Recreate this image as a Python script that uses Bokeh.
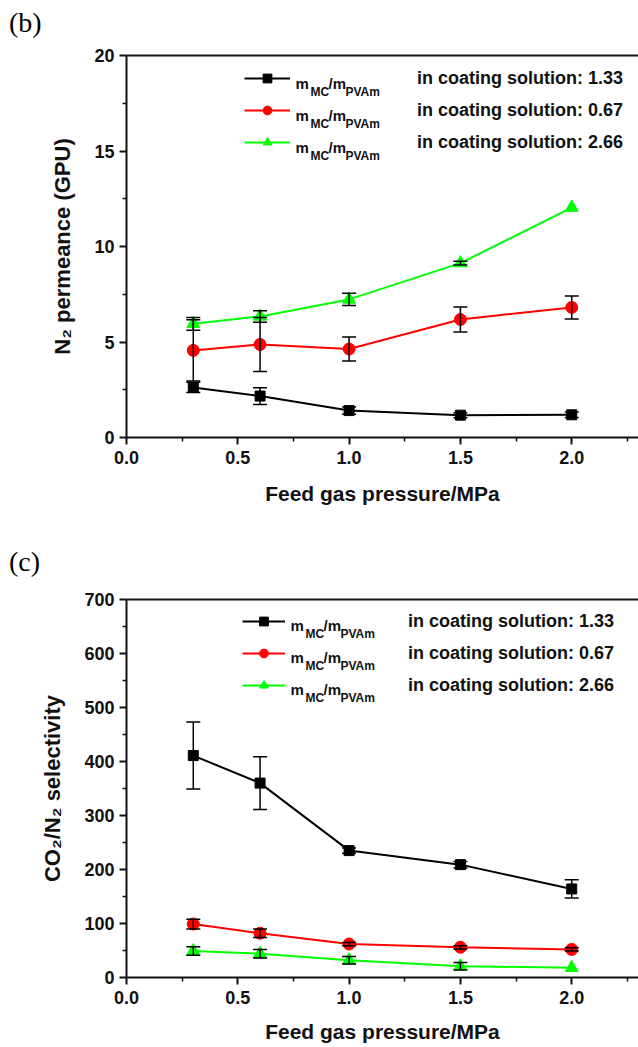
from bokeh.plotting import figure
from bokeh.models import (Range1d, FixedTicker, NumeralTickFormatter, LinearAxis, Whisker,
                          TeeHead, ColumnDataSource, Legend, LegendItem, Label, Div)
from bokeh.layouts import column
from bokeh.embed import file_html
from bokeh.resources import INLINE

# ---------------- data ----------------
pressure = [0.3, 0.6, 1.0, 1.5, 2.0]            # Feed gas pressure / MPa
ratios = ["1.33", "0.67", "2.66"]               # m_MC/m_PVAm in coating solution
colors = ["#000000", "#ff0000", "#00ff00"]
markers = ["square", "circle", "triangle"]
marker_sizes = [10, 12, 13]

# (b) N2 permeance (GPU)
perm_133 = [2.62, 2.17, 1.41, 1.17, 1.19]
perm_133_err = [0.27, 0.44, 0.19, 0.13, 0.14]
perm_067 = [4.56, 4.87, 4.63, 6.18, 6.81]
perm_067_err = [1.60, 1.41, 0.63, 0.65, 0.60]
perm_266 = [5.95, 6.34, 7.23, 9.13, 12.04]
perm_266_err = [0.33, 0.30, 0.32, 0.10, 0.0]

# (c) CO2/N2 selectivity
sel_133 = [411, 360, 235, 209, 164]
sel_133_err = [62, 49, 5, 6, 17]
sel_067 = [99, 82, 62, 56, 52]
sel_067_err = [9, 8, 3, 3, 3]
sel_266 = [49, 44, 32, 21, 18]
sel_266_err = [8, 8, 7, 7, 0]

x_major = [0.0, 0.5, 1.0, 1.5, 2.0]
x_minor = [0.25, 0.75, 1.25, 1.75, 2.25]
perm_major = [0, 5, 10, 15, 20]
perm_minor = [2.5, 7.5, 12.5, 17.5]
sel_major = [0, 100, 200, 300, 400, 500, 600, 700]
sel_minor = [50, 150, 250, 350, 450, 550, 650]

x_label = "Feed gas pressure/MPa"
FONT = "Liberation Sans"
INK = "#111111"
LEFT = 126


def style_axis(ax, standoff, label_standoff, label_size):
    ax.axis_line_width = 2
    ax.axis_line_color = INK
    ax.major_tick_line_width = 2
    ax.major_tick_line_color = INK
    ax.major_tick_out = 7
    ax.major_tick_in = 0
    ax.minor_tick_line_width = 1.5
    ax.minor_tick_line_color = INK
    ax.minor_tick_out = 4
    ax.minor_tick_in = 0
    ax.major_label_text_font = FONT
    ax.major_label_text_font_style = "bold"
    ax.major_label_text_font_size = "18px"
    ax.major_label_text_color = INK
    ax.major_label_standoff = standoff
    ax.axis_label_text_font = FONT
    ax.axis_label_text_font_style = "bold"
    ax.axis_label_text_font_size = label_size
    ax.axis_label_text_color = INK
    ax.axis_label_standoff = label_standoff


def tag_div(tag, height, pad_top):
    return Div(text=tag, width=638, height=height, margin=0,
               styles={"font-family": "Liberation Serif", "font-size": "28px",
                       "line-height": "28px", "color": "#000000",
                       "padding-left": "9px", "padding-top": f"{pad_top}px",
                       "box-sizing": "border-box", "overflow": "hidden"})


def build_panel(y_label, series, errors, y_end, y_major, y_minor, y_fmt,
                height, b_top, b_bottom, xlab_standoff,
                leg_left, leg_row1, leg_pitch, glyph_w, leg_standoff):
    # leg_left / leg_row1 are given relative to the frame's top-left corner
    frame_h = height - b_top - b_bottom

    def fx(X):
        return X

    def fy(Y):
        return frame_h - Y

    p = figure(width=638, height=height, x_range=Range1d(0, 2.3), y_range=Range1d(0, y_end),
               output_backend="svg", toolbar_location=None, title=None,
               min_border_left=LEFT, min_border_right=0,
               min_border_top=b_top, min_border_bottom=b_bottom)
    p.xgrid.visible = False
    p.ygrid.visible = False
    p.outline_line_color = None
    p.background_fill_color = "white"
    p.border_fill_color = "white"

    p.xaxis.ticker = FixedTicker(ticks=x_major, minor_ticks=x_minor)
    p.xaxis.formatter = NumeralTickFormatter(format="0.0")
    p.xaxis.axis_label = x_label
    style_axis(p.xaxis[0], 6, xlab_standoff, "21px")

    p.yaxis.ticker = FixedTicker(ticks=y_major, minor_ticks=y_minor)
    p.yaxis.formatter = NumeralTickFormatter(format=y_fmt)
    p.yaxis.axis_label = y_label
    style_axis(p.yaxis[0], 5, 16, "22px")

    top_ax = LinearAxis(ticker=FixedTicker(ticks=[]), major_label_text_font_size="0px",
                        axis_line_width=2, axis_line_color=INK,
                        major_tick_line_color=None, minor_tick_line_color=None)
    p.add_layout(top_ax, "above")

    items = []
    for i in range(3):
        vals = series[i]
        r_line = p.line(pressure, vals, line_color=colors[i], line_width=2)
        r_mark = p.scatter(pressure, vals, marker=markers[i], size=marker_sizes[i],
                           fill_color=colors[i], line_color=colors[i])
        items.append(LegendItem(label="in coating solution: " + ratios[i],
                                renderers=[r_line, r_mark]))

    for i in range(3):
        base, up, lo = [], [], []
        for xv, v, e in zip(pressure, series[i], errors[i]):
            if e > 0:
                base.append(xv)
                up.append(v + e)
                lo.append(v - e)
        src = ColumnDataSource(dict(base=base, upper=up, lower=lo))
        w = Whisker(source=src, base="base", upper="upper", lower="lower",
                    line_color="black", line_width=1.5, level="annotation",
                    upper_head=TeeHead(size=14, line_color="black", line_width=1.5),
                    lower_head=TeeHead(size=14, line_color="black", line_width=1.5))
        p.add_layout(w)

    gh = 22
    spacing = int(leg_pitch - gh)
    leg_bottom = leg_row1 + 2 * leg_pitch + gh / 2
    legend = Legend(items=items, location=(fx(leg_left), fy(leg_bottom)),
                    orientation="vertical", glyph_width=glyph_w, glyph_height=gh,
                    label_height=gh, spacing=spacing, padding=0, margin=0,
                    border_line_color=None, background_fill_alpha=0,
                    label_standoff=leg_standoff, label_text_font=FONT,
                    label_text_font_style="bold", label_text_font_size="18px",
                    label_text_color=INK)
    p.add_layout(legend)

    gx = leg_left + glyph_w
    for i in range(3):
        c = leg_row1 + i * leg_pitch
        parts = [("m", 5, 4.4, "15px"), ("MC", 20, 12.7, "12px"),
                 ("/m", 38, 4.4, "15px"), ("PVAm", 55, 12.7, "12px")]
        for txt, dx, dy, fs in parts:
            p.add_layout(Label(x=fx(gx + dx), y=fy(c + dy), x_units="screen", y_units="screen",
                               text=txt, text_font=FONT, text_font_style="bold",
                               text_font_size=fs, text_color=INK,
                               text_align="left", text_baseline="alphabetic"))
    return p


div_b = tag_div("(b)", 43, 9)
p1 = build_panel("N₂ permeance (GPU)",
                 [perm_133, perm_067, perm_266], [perm_133_err, perm_067_err, perm_266_err],
                 20, perm_major, perm_minor, "0",
                 height=485, b_top=12, b_bottom=91, xlab_standoff=15,
                 leg_left=244 - LEFT, leg_row1=78.3 - 55, leg_pitch=32, glyph_w=46,
                 leg_standoff=127)

div_c = tag_div("(c)", 59, 20)
p2 = build_panel("CO₂/N₂ selectivity",
                 [sel_133, sel_067, sel_266], [sel_133_err, sel_067_err, sel_266_err],
                 700, sel_major, sel_minor, "0",
                 height=460, b_top=12, b_bottom=70, xlab_standoff=13,
                 leg_left=242 - LEFT, leg_row1=621 - 599, leg_pitch=32, glyph_w=43,
                 leg_standoff=123)

layout = column(div_b, p1, div_c, p2, spacing=0)
open("out.html", "w").write(file_html(layout, INLINE))
